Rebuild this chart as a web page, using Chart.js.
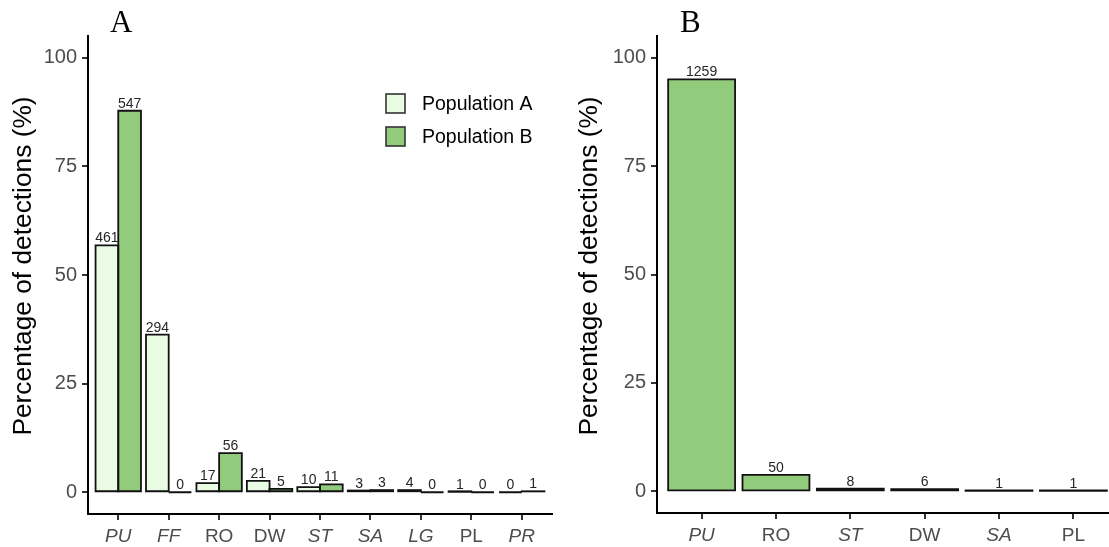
<!DOCTYPE html>
<html><head><meta charset="utf-8">
<script src="https://cdn.jsdelivr.net/npm/chart.js@4.4.0/dist/chart.umd.min.js"></script>
<style>
html,body{margin:0;padding:0;background:#fff;overflow:hidden;width:1109px;height:547px;}
#wrap{position:relative;width:1109px;height:547px;overflow:hidden;background:#fff;}
#ca{position:absolute;left:0;top:0;}
#cb{position:absolute;left:560px;top:0;}
.ttl{position:absolute;font-family:'Liberation Serif','Times New Roman',serif;font-size:31px;color:#000;line-height:1;}
</style></head><body>
<div id="wrap">
<canvas id="ca" width="556" height="547"></canvas>
<canvas id="cb" width="562" height="547"></canvas>
<div class="ttl" style="left:110px;top:6px;">A</div>
<div class="ttl" style="left:680px;top:6px;">B</div>
</div>
<script>
// ---- data ----
const catsA = ['PU','FF','RO','DW','ST','SA','LG','PL','PR'];
const pctPopA = [56.8, 36.3, 2.1, 2.6, 1.2, 0.4, 0.5, 0.1, 0];
const pctPopB = [87.8, 0, 9.0, 0.8, 1.8, 0.5, 0, 0, 0.2];
const cntPopA = [461, 294, 17, 21, 10, 3, 4, 1, 0];
const cntPopB = [547, 0, 56, 5, 11, 3, 0, 0, 1];
const catsB = ['PU','RO','ST','DW','SA','PL'];
const pctB = [95.0, 3.8, 0.6, 0.5, 0.1, 0.1];
const cntB = [1259, 50, 8, 6, 1, 1];
const italicCats = ['PU','FF','ST','SA','LG','PR'];
const yTicks = [0, 25, 50, 75, 100];
const seriesNames = ['Population A', 'Population B'];
const yTitle = 'Percentage of detections (%)';

const F = "'Liberation Sans', Arial, sans-serif";
const LIGHT = '#EAFBE4';
const DARK = '#93CB7D';

const outlinePlugin = {
  id: 'ggOutline',
  afterDatasetsDraw(chart) {
    const ctx = chart.ctx;
    ctx.save();
    ctx.strokeStyle = '#111';
    ctx.lineWidth = 1.8;
    ctx.lineJoin = 'miter';
    chart.data.datasets.forEach((ds, di) => {
      const meta = chart.getDatasetMeta(di);
      meta.data.forEach(el => {
        const p = el.getProps(['x','y','base','width'], true);
        const l = p.x - p.width/2, r = p.x + p.width/2;
        ctx.beginPath();
        ctx.moveTo(l, p.base); ctx.lineTo(l, p.y); ctx.lineTo(r, p.y); ctx.lineTo(r, p.base); ctx.closePath();
        ctx.stroke();
      });
    });
    ctx.fillStyle = '#262626';
    ctx.font = '14px ' + F;
    ctx.textAlign = 'center';
    ctx.textBaseline = 'alphabetic';
    chart.data.datasets.forEach((ds, di) => {
      const meta = chart.getDatasetMeta(di);
      meta.data.forEach((el, i) => {
        const p = el.getProps(['x','y'], true);
        ctx.fillText(String(ds.counts[i]), p.x, p.y - 3);
      });
    });
    ctx.restore();
  }
};

const legendPlugin = {
  id: 'ggLegend',
  afterDraw(chart, args, opts) {
    const ctx = chart.ctx;
    ctx.save();
    ctx.translate(opts.titleX, opts.titleY);
    ctx.rotate(-Math.PI / 2);
    ctx.fillStyle = '#000';
    ctx.font = '26.3px ' + F;
    ctx.textAlign = 'center';
    ctx.textBaseline = 'middle';
    ctx.fillText(yTitle, 0, 0);
    ctx.restore();
    if (!opts.show) return;
    ctx.save();
    chart.data.datasets.forEach((ds, i) => {
      const x = opts.x, y = opts.y + i * opts.gap;
      ctx.fillStyle = ds.backgroundColor;
      ctx.fillRect(x, y, opts.size, opts.size);
      ctx.strokeStyle = '#333';
      ctx.lineWidth = 1.6;
      ctx.strokeRect(x, y, opts.size, opts.size);
      ctx.fillStyle = '#000';
      ctx.font = '19.5px ' + F;
      ctx.textAlign = 'left';
      ctx.textBaseline = 'middle';
      ctx.fillText(ds.label, opts.textX, y + opts.size/2 + 1);
    });
    ctx.restore();
  }
};

function makeChart(id, cats, datasets, lay, legendOpts) {
  return new Chart(document.getElementById(id), {
    type: 'bar',
    data: { datasets: datasets },
    options: {
      responsive: false,
      animation: false,
      devicePixelRatio: 1,
      layout: { padding: { left: 0, top: lay.top, right: lay.right, bottom: 0 } },
      datasets: { bar: { categoryPercentage: 0.9, barPercentage: 1.0, borderWidth: 0 } },
      plugins: {
        legend: { display: false },
        tooltip: { enabled: false },
        ggLegend: legendOpts
      },
      scales: {
        x: {
          type: 'linear', bounds: 'data', offset: false,
          min: 0.4, max: cats.length + 0.6,
          afterBuildTicks: s => { s.ticks = cats.map((c, i) => ({ value: i + 1 })); },
          afterFit: s => { s.height = lay.xH; },
          ticks: {
            autoSkip: false, maxRotation: 0, color: '#4D4D4D', padding: 5,
            callback: v => cats[Math.round(v) - 1],
            font: ctx => ({ family: F, size: 19, style: italicCats.includes(cats[ctx.index]) ? 'italic' : 'normal' })
          },
          grid: { offset: false, drawOnChartArea: false, drawTicks: true, tickLength: 6, color: '#333', lineWidth: 2 },
          border: { display: true, color: '#000', width: 2 }
        },
        y: {
          type: 'linear', bounds: 'data', min: -5, max: 105,
          afterBuildTicks: s => { s.ticks = yTicks.map(v => ({ value: v })); },
          afterFit: s => { s.width = lay.left; },
          ticks: { color: '#4D4D4D', font: { family: F, size: 20 }, padding: 5 },
          grid: { drawOnChartArea: false, drawTicks: true, tickLength: 6, color: '#333', lineWidth: 2 },
          border: { display: true, color: '#000', width: 2 }
        }
      }
    },
    plugins: [outlinePlugin, legendPlugin]
  });
}

makeChart('ca', catsA, [
  { label: seriesNames[0], data: pctPopA.map((v, i) => ({ x: i + 1, y: v })), counts: cntPopA, backgroundColor: LIGHT },
  { label: seriesNames[1], data: pctPopB.map((v, i) => ({ x: i + 1, y: v })), counts: cntPopB, backgroundColor: DARK }
], { left: 88, top: 36, right: 4, xH: 33 },
{ show: true, x: 386, y: 94, size: 19, gap: 33, textX: 422, titleX: 24, titleY: 266 });

makeChart('cb', catsB, [
  { label: 'B', data: pctB.map((v, i) => ({ x: i + 1, y: v })), counts: cntB, backgroundColor: DARK }
], { left: 97, top: 36, right: 4, xH: 34 },
{ show: false, titleX: 30, titleY: 266 });
</script>
</body></html>
